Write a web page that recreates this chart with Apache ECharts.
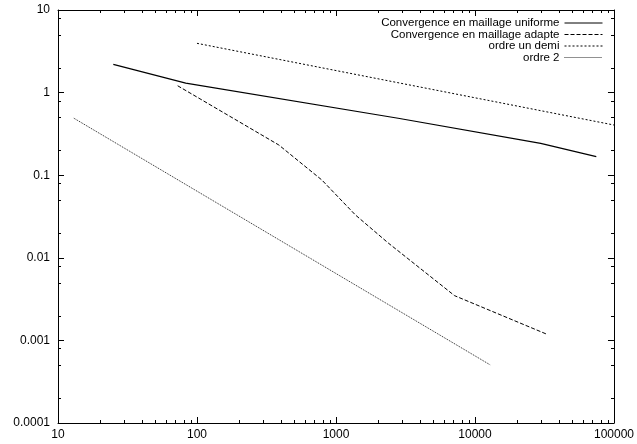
<!DOCTYPE html>
<html>
<head>
<meta charset="utf-8">
<script src="https://cdn.jsdelivr.net/npm/echarts@6/dist/echarts.min.js"></script>
<style>html,body{margin:0;padding:0;background:#fff}#c{width:637px;height:444px}</style>
</head>
<body>
<div id="c"></div>
<script>
// Data (log-log)
const uniformX = [25, 83, 2800, 29700, 74600];
const uniformY = [2.20, 1.30, 0.489, 0.243, 0.1675];
const adaptX = [72.6, 388, 791, 1380, 2377, 7130, 32800];
const adaptY = [1.21, 0.232, 0.0875, 0.033, 0.0151, 0.00348, 0.00119];
const demiX = [100, 100000];
const demiY = [3.95, 0.405];
const ordre2X = [13, 12900];
const ordre2Y = [0.49, 0.000504];
const seriesNames = ['Convergence en maillage uniforme', 'Convergence en maillage adapte', 'ordre un demi', 'ordre 2'];
const xTickLabels = ['10', '100', '1000', '10000', '100000'];
const yTickLabels = ['0.0001', '0.001', '0.01', '0.1', '1', '10'];
const xMinorTicks = [20,30,40,50,60,70,80,90,200,300,400,500,600,700,800,900,2000,3000,4000,5000,6000,7000,8000,9000,20000,30000,40000,50000,60000,70000,80000,90000];
const yMinorTicks = [0.0002,0.0005,0.0008,0.002,0.005,0.008,0.02,0.05,0.08,0.2,0.5,0.8,2,5,8];

const X_MIN = 10, X_MAX = 100000, Y_MIN = 0.0001, Y_MAX = 10;
const font = "'Liberation Sans', Arial, Helvetica, sans-serif";
const pair = (xs, ys) => xs.map((x, i) => [x, ys[i]]);

function fmtX(v) { const s = xTickLabels.find(t => Math.abs(+t - v) / v < 1e-6); return s || ''; }
function fmtY(v) { const s = yTickLabels.find(t => Math.abs(+t - v) / v < 1e-6); return s || ''; }

const chart = echarts.init(document.getElementById('c'), null, {renderer: 'canvas'});

const styles = [
  {color: '#000', width: 1.2, type: 'solid'},
  {color: '#000', width: 1, type: [4, 2]},
  {color: '#000', width: 1, type: [2, 2]},
  {color: '#222', width: 1, type: [1, 1]}
];
const datas = [pair(uniformX, uniformY), pair(adaptX, adaptY), pair(demiX, demiY), pair(ordre2X, ordre2Y)];

const lineSeries = seriesNames.map((n, i) => ({
  name: n, type: 'line', data: datas[i], symbol: 'none', showSymbol: false,
  lineStyle: {color: styles[i].color, width: styles[i].width, type: styles[i].type},
  itemStyle: {color: styles[i].color},
  xAxisIndex: 0, yAxisIndex: 0, silent: true, animation: false
}));

const legendCenters = [23, 34.5, 46, 57.5];
const legends = seriesNames.map((n, i) => ({
  show: true,
  data: [n],
  right: 34, top: legendCenters[i] - 6, orient: 'horizontal', align: 'right',
  itemWidth: 38, itemHeight: 12, padding: 0, selectedMode: false,
  itemStyle: {opacity: 0, borderWidth: 0},
  lineStyle: {width: 1},
  textStyle: {fontFamily: font, fontSize: 11.5, color: '#000'}
}));

function tickLine(x1, y1, x2, y2) {
  return {type: 'line', shape: {x1, y1, x2, y2}, style: {stroke: '#000', lineWidth: 1}};
}

const xMinorSeries = {
  type: 'custom', name: '_xminor', xAxisIndex: 0, yAxisIndex: 0, silent: true, clip: false,
  data: xMinorTicks.map(v => [v, 1]),
  renderItem: function (params, api) {
    const v = api.value(0);
    const b = api.coord([v, Y_MIN]);
    const t = api.coord([v, Y_MAX]);
    const x = Math.round(b[0]) + 0.5;
    return {type: 'group', children: [
      tickLine(x, Math.round(b[1]), x, Math.round(b[1]) - 3),
      tickLine(x, Math.round(t[1]), x, Math.round(t[1]) + 3)
    ]};
  }
};
const yMinorSeries = {
  type: 'custom', name: '_yminor', xAxisIndex: 0, yAxisIndex: 0, silent: true, clip: false,
  data: yMinorTicks.map(v => [100, v]),
  renderItem: function (params, api) {
    const v = api.value(1);
    const l = api.coord([X_MIN, v]);
    const r = api.coord([X_MAX, v]);
    const y = Math.round(l[1]) + 0.5;
    return {type: 'group', children: [
      tickLine(Math.round(l[0]), y, Math.round(l[0]) + 3, y),
      tickLine(Math.round(r[0]), y, Math.round(r[0]) - 3, y)
    ]};
  }
};

const axisLine = {show: true, onZero: false, lineStyle: {color: '#000', width: 1}};
const majorTick = {show: true, inside: true, length: 6, lineStyle: {color: '#000', width: 1}};

chart.setOption({
  animation: false,
  backgroundColor: '#fff',
  grid: {left: 58, right: 20, top: 10, bottom: 21, containLabel: false},
  legend: legends,
  xAxis: [
    {type: 'log', logBase: 10, min: X_MIN, max: X_MAX, splitNumber: 4, position: 'bottom',
     axisLine, axisTick: majorTick, splitLine: {show: false}, minorTick: {show: false},
     axisLabel: {show: true, formatter: fmtX, color: '#000', fontFamily: font, fontSize: 12, margin: 6, showMinLabel: true, showMaxLabel: true, hideOverlap: false}},
    {type: 'log', logBase: 10, min: X_MIN, max: X_MAX, splitNumber: 4, position: 'top',
     axisLine, axisTick: majorTick, splitLine: {show: false}, axisLabel: {show: false}}
  ],
  yAxis: [
    {type: 'log', logBase: 10, min: Y_MIN, max: Y_MAX, splitNumber: 5, position: 'left',
     axisLine, axisTick: majorTick, splitLine: {show: false}, minorTick: {show: false},
     axisLabel: {show: true, formatter: fmtY, color: '#000', fontFamily: font, fontSize: 12, margin: 8, showMinLabel: true, showMaxLabel: true, hideOverlap: false}},
    {type: 'log', logBase: 10, min: Y_MIN, max: Y_MAX, splitNumber: 5, position: 'right',
     axisLine, axisTick: majorTick, splitLine: {show: false}, axisLabel: {show: false}}
  ],
  series: [...lineSeries, xMinorSeries, yMinorSeries]
});
</script>
</body>
</html>
